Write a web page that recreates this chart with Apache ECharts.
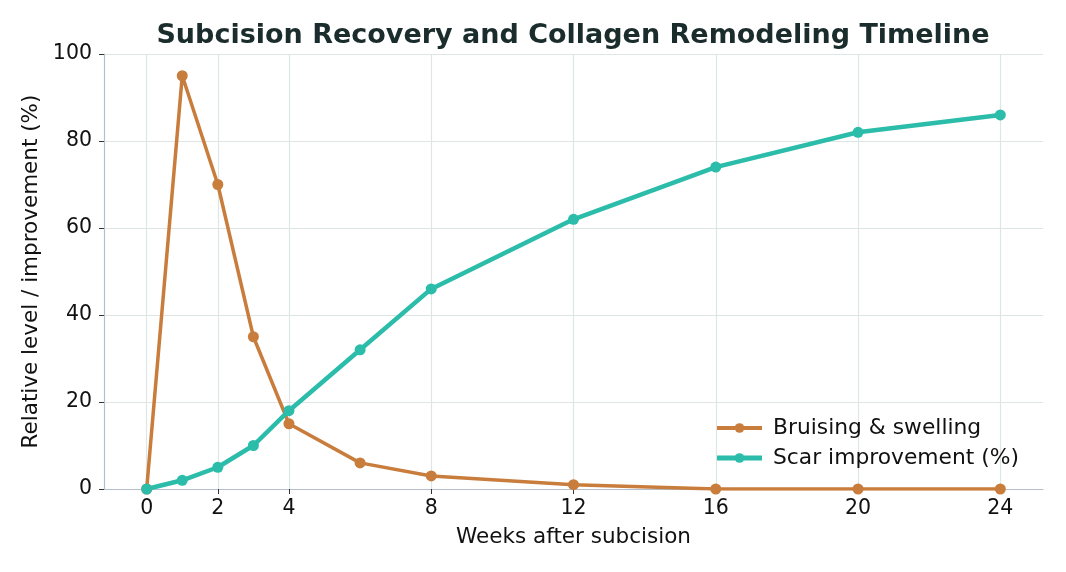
<!DOCTYPE html>
<html>
<head>
<meta charset="utf-8">
<script src="https://cdn.jsdelivr.net/npm/echarts@6/dist/echarts.min.js"></script>
<style>html,body{margin:0;padding:0;background:#fff}#c{width:1066px;height:572px}</style>
</head>
<body>
<div id="c"></div>
<script>
const weeks = [0, 1, 2, 3, 4, 6, 8, 12, 16, 20, 24];
const bruising = [0, 95, 70, 35, 15, 6, 3, 1, 0, 0, 0];
const scar = [0, 2, 5, 10, 18, 32, 46, 62, 74, 82, 86];
const xTicks = [0, 2, 4, 8, 12, 16, 20, 24];

const font = 'DejaVu Sans';
const orange = '#c97d3c';
const teal = '#2bbcaa';
const chart = echarts.init(document.getElementById('c'));
chart.setOption({
  animation: false,
  backgroundColor: '#ffffff',
  textStyle: { fontFamily: font },
  title: {
    text: 'Subcision Recovery and Collagen Remodeling Timeline',
    left: 568, top: 17, textAlign: 'center',
    textStyle: { fontFamily: font, fontSize: 27, fontWeight: 'bold', color: '#1b2c2d' }
  },
  legend: {
    right: 42, top: 412, orient: 'vertical', itemWidth: 45, itemHeight: 12, itemGap: 8,
    textStyle: { fontFamily: font, fontSize: 21.8, color: '#111', padding: [0, 0, 0, 6] },
    data: [
      { name: 'Bruising & swelling', lineStyle: { width: 4, color: orange } },
      { name: 'Scar improvement (%)', lineStyle: { width: 5, color: teal } }
    ]
  },
  grid: { left: 104, right: 23, top: 54, bottom: 83, containLabel: false },
  xAxis: {
    type: 'value', min: -1.2, max: 25.2,
    name: 'Weeks after subcision', nameLocation: 'middle', nameGap: 37,
    nameTextStyle: { fontFamily: font, fontSize: 21.5, color: '#111' },
    axisLine: { show: true, onZero: false, lineStyle: { color: '#b4bfcc', width: 1.2 } },
    axisTick: { show: true, length: 5, customValues: xTicks, lineStyle: { color: '#333' } },
    axisLabel: { customValues: xTicks, fontFamily: font, fontSize: 20.5, color: '#111', margin: 9 },
    splitLine: { show: true, customValues: xTicks, lineStyle: { color: '#dde6e4', width: 1.2 } }
  },
  yAxis: {
    type: 'value', min: 0, max: 100, interval: 20,
    name: 'Relative level / improvement (%)', nameLocation: 'middle', nameGap: 61,
    nameTextStyle: { fontFamily: font, fontSize: 21.5, color: '#111' },
    axisLine: { show: true, onZero: false, lineStyle: { color: '#b4bfcc', width: 1.2 } },
    axisTick: { show: true, length: 5, lineStyle: { color: '#333' } },
    axisLabel: { fontFamily: font, fontSize: 20.5, color: '#111', margin: 12 },
    splitLine: { show: true, lineStyle: { color: '#dde6e4', width: 1.2 } }
  },
  series: [
    {
      name: 'Bruising & swelling', type: 'line',
      data: weeks.map((w, i) => [w, bruising[i]]),
      symbol: 'circle', symbolSize: 11,
      lineStyle: { color: orange, width: 3.5 },
      itemStyle: { color: orange }
    },
    {
      name: 'Scar improvement (%)', type: 'line',
      data: weeks.map((w, i) => [w, scar[i]]),
      symbol: 'circle', symbolSize: 11,
      lineStyle: { color: teal, width: 4.5 },
      itemStyle: { color: teal }
    }
  ]
});
</script>
</body>
</html>
